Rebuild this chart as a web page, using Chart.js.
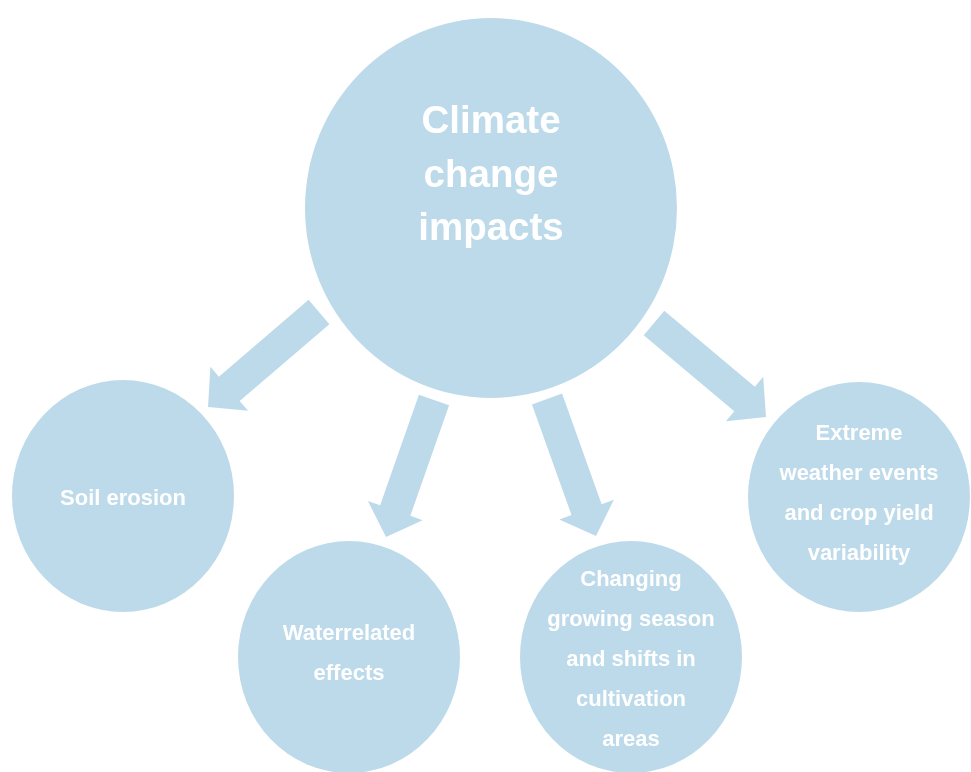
<!DOCTYPE html>
<html>
<head>
<meta charset="utf-8">
<script src="https://cdn.jsdelivr.net/npm/chart.js@4.4.1/dist/chart.umd.min.js"></script>
<style>
  html, body { margin: 0; padding: 0; background: #ffffff; }
  canvas { display: block; }
</style>
</head>
<body>
<canvas id="diagram" width="971" height="772"></canvas>
<script>
// nodes of the diagram (first one is the centre)
var nodeLabels = [
    ['Climate', 'change', 'impacts'],
    ['Soil erosion'],
    ['Waterrelated', 'effects'],
    ['Changing', 'growing season', 'and shifts in', 'cultivation', 'areas'],
    ['Extreme', 'weather events', 'and crop yield', 'variability']
];
var nodeX = [491, 123, 349, 631, 859];
var nodeY = [208, 496, 657, 657, 497];
var nodeRx = [186, 111, 111, 111, 111];
var nodeRy = [190, 116, 116, 116, 115];

// arrows: tail point -> tip point
var arrowFromX = [319, 434, 547, 654];
var arrowFromY = [312, 400, 399, 323];
var arrowToX = [208, 386, 596, 766];
var arrowToY = [407, 537, 536, 417];

var fillColor = '#bddaeb';

function arrowShape(x1, y1, x2, y2) {
    var shaftHalf = 16, headHalf = 29, headLen = 28;
    var dx = x2 - x1, dy = y2 - y1;
    var len = Math.sqrt(dx * dx + dy * dy);
    var ux = dx / len, uy = dy / len;
    var nx = -uy, ny = ux;
    var bx = x2 - ux * headLen, by = y2 - uy * headLen;
    return [
        {x: x1 + nx * shaftHalf, y: y1 + ny * shaftHalf},
        {x: bx + nx * shaftHalf, y: by + ny * shaftHalf},
        {x: bx + nx * headHalf, y: by + ny * headHalf},
        {x: x2, y: y2},
        {x: bx - nx * headHalf, y: by - ny * headHalf},
        {x: bx - nx * shaftHalf, y: by - ny * shaftHalf},
        {x: x1 - nx * shaftHalf, y: y1 - ny * shaftHalf},
        {x: x1 + nx * shaftHalf, y: y1 + ny * shaftHalf}
    ];
}

var textStyle = [
    {size: 38.5, lineHeight: 53.5, dy: -32},
    {size: 22, lineHeight: 40, dy: 3},
    {size: 22, lineHeight: 40, dy: -3},
    {size: 22, lineHeight: 40, dy: 3},
    {size: 22, lineHeight: 40, dy: -3}
];

var datasets = [];

for (var a = 0; a < arrowFromX.length; a++) {
    datasets.push({
        type: 'scatter',
        showLine: true,
        fill: 'shape',
        data: arrowShape(arrowFromX[a], arrowFromY[a], arrowToX[a], arrowToY[a]),
        backgroundColor: fillColor,
        borderColor: 'rgba(0,0,0,0)',
        borderWidth: 0,
        pointRadius: 0,
        tension: 0,
        clip: false
    });
}

for (var n = 0; n < nodeLabels.length; n++) {
    datasets.push({
        type: 'bubble',
        data: [{x: nodeX[n], y: nodeY[n], r: nodeRx[n]}],
        stretch: nodeRy[n] / nodeRx[n],
        nodeIndex: n,
        backgroundColor: fillColor,
        borderWidth: 0,
        hoverRadius: 0,
        clip: false
    });
}

// circles in the reference are a little taller than wide
var ellipsePlugin = {
    id: 'ellipse',
    beforeDatasetDraw: function(chart, args) {
        var ds = chart.data.datasets[args.index];
        if (!ds.stretch) return;
        var pt = args.meta.data[0];
        var ctx = chart.ctx;
        ctx.save();
        ctx.translate(pt.x, pt.y);
        ctx.scale(1, ds.stretch);
        ctx.translate(-pt.x, -pt.y);
    },
    afterDatasetDraw: function(chart, args) {
        var ds = chart.data.datasets[args.index];
        if (!ds.stretch) return;
        chart.ctx.restore();
    }
};

var labelPlugin = {
    id: 'nodeLabels',
    afterDatasetsDraw: function(chart) {
        var ctx = chart.ctx;
        chart.data.datasets.forEach(function(ds, i) {
            if (ds.nodeIndex === undefined) return;
            var pt = chart.getDatasetMeta(i).data[0];
            var lines = nodeLabels[ds.nodeIndex];
            var st = textStyle[ds.nodeIndex];
            ctx.save();
            ctx.fillStyle = '#ffffff';
            ctx.font = 'bold ' + st.size + 'px "Liberation Sans", Arial, sans-serif';
            ctx.textAlign = 'center';
            ctx.textBaseline = 'middle';
            var top = pt.y + st.dy - (lines.length - 1) * st.lineHeight / 2;
            lines.forEach(function(line, k) {
                ctx.fillText(line, pt.x, top + k * st.lineHeight);
            });
            ctx.restore();
        });
    }
};

new Chart(document.getElementById('diagram'), {
    type: 'bubble',
    data: { datasets: datasets },
    options: {
        responsive: false,
        animation: false,
        devicePixelRatio: 1,
        events: [],
        layout: { padding: 0, autoPadding: false },
        plugins: {
            legend: { display: false },
            tooltip: { enabled: false }
        },
        scales: {
            x: { type: 'linear', min: 0, max: 971, display: false },
            y: { type: 'linear', min: 0, max: 772, reverse: true, display: false }
        }
    },
    plugins: [ellipsePlugin, labelPlugin]
});
</script>
</body>
</html>
